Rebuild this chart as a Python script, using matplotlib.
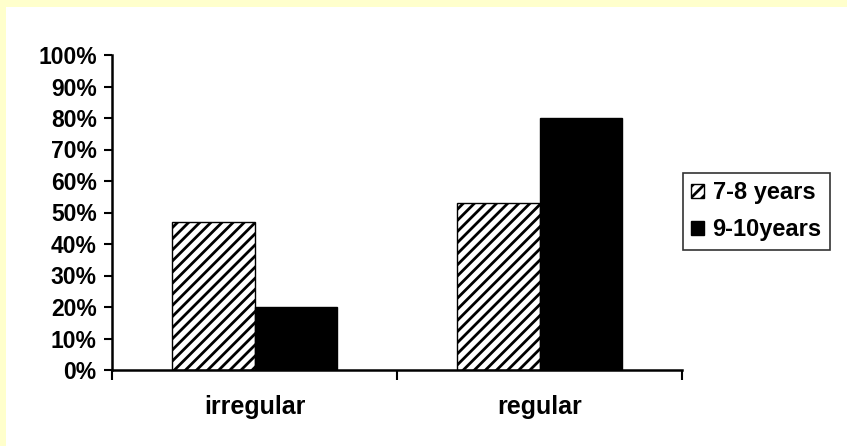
import matplotlib.pyplot as plt
from matplotlib.patches import Rectangle

categories = ['irregular', 'regular']
series_names = ['7-8 years', '9-10years']
values_7_8 = [0.47, 0.53]
values_9_10 = [0.20, 0.80]
y_ticks = [0.0, 0.1, 0.2, 0.3, 0.4, 0.5, 0.6, 0.7, 0.8, 0.9, 1.0]

plt.rcParams['font.family'] = ['Liberation Sans', 'DejaVu Sans']
plt.rcParams['font.weight'] = 'bold'
plt.rcParams['hatch.linewidth'] = 2.0

W, H = 847, 446
fig = plt.figure(figsize=(W / 100, H / 100), dpi=100)
fig.patch.set_facecolor('white')
# pale yellow strip along top and left edges
fig.patches.append(Rectangle((0, 1 - 7 / H), 1, 7 / H, transform=fig.transFigure,
                             facecolor='#FFFFCC', edgecolor='none'))
fig.patches.append(Rectangle((0, 0), 6 / W, 1, transform=fig.transFigure,
                             facecolor='#FFFFCC', edgecolor='none'))

ax = fig.add_axes([112 / W, 1 - 370 / H, (682 - 112) / W, (370 - 55) / H])
ax.set_facecolor('none')

x = list(range(len(categories)))
bw = 0.288
ax.bar([i - bw / 2 for i in x], values_7_8, width=bw, facecolor='white',
       edgecolor='black', linewidth=1, hatch='///', label=series_names[0])
ax.bar([i + bw / 2 for i in x], values_9_10, width=bw, facecolor='black',
       edgecolor='black', linewidth=1, label=series_names[1])

ax.set_xlim(-0.5, len(categories) - 0.5)
ax.set_ylim(0, 1)
ax.set_yticks(y_ticks)
ax.set_yticklabels([f'{int(round(t * 100))}%' for t in y_ticks], fontsize=16.5, fontweight='bold')
ax.tick_params(axis='y', length=6, width=1.5, pad=5)

# category separators as major ticks, names as minor ticks
ax.set_xticks([i - 0.5 for i in range(len(categories) + 1)])
ax.set_xticklabels([])
ax.tick_params(axis='x', which='major', length=7, width=1.5)
ax.set_xticks(x, minor=True)
ax.set_xticklabels(categories, minor=True, fontsize=18, fontweight='bold')
ax.tick_params(axis='x', which='minor', length=0, pad=18)

for side in ['top', 'right']:
    ax.spines[side].set_visible(False)
for side in ['left', 'bottom']:
    ax.spines[side].set_linewidth(1.8)

leg = fig.legend(loc='upper left', bbox_to_anchor=(683 / W, 1 - 173 / H),
                 prop={'weight': 'bold', 'size': 17},
                 frameon=True, fancybox=False, edgecolor='black',
                 handlelength=0.55, handleheight=0.55, handletextpad=0.35,
                 borderpad=0.35, labelspacing=0.6, borderaxespad=0)
leg.get_frame().set_linewidth(1.2)

fig.savefig('out.png', dpi=100)
